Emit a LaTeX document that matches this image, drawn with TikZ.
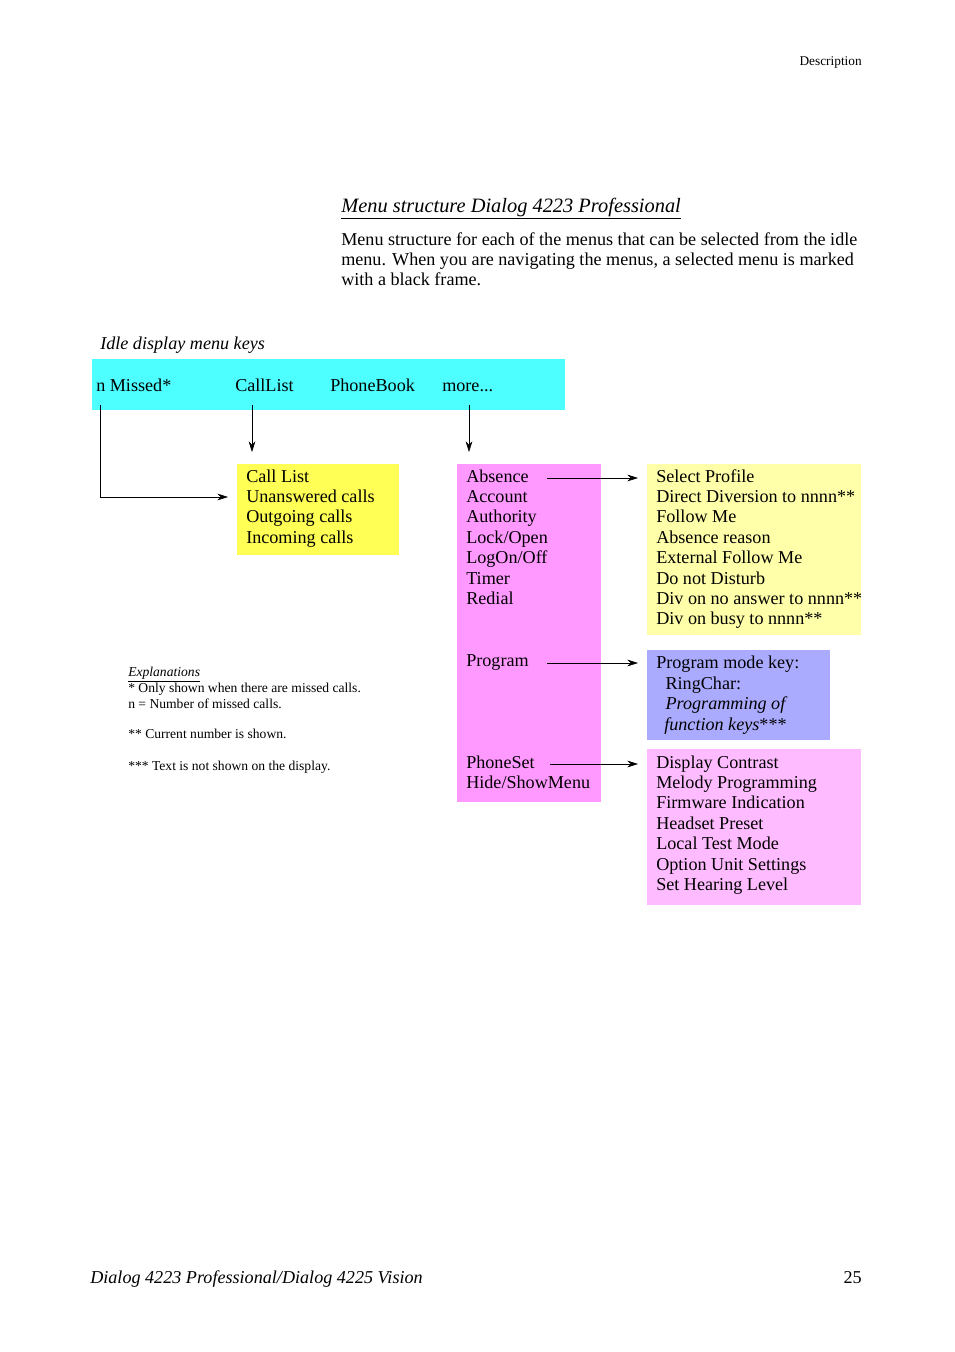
\documentclass[tikz,border=0pt]{standalone}
\usepackage{fontspec}
\setmainfont{Liberation Serif}
\usetikzlibrary{positioning,arrows.meta}
\definecolor{idlecyan}{HTML}{4DFFFF}
\definecolor{callyellow}{HTML}{FFFF55}
\definecolor{moremag}{HTML}{FF99FF}
\definecolor{profyellow}{HTML}{FFFFAA}
\definecolor{progblue}{HTML}{AAAAFF}
\definecolor{setpink}{HTML}{FFBBFF}
\begin{document}
\begin{tikzpicture}[
    x=0.75pt, y=-0.75pt,
    txt/.style={anchor=base west, inner sep=0pt, font=\fontsize{13.6}{15.3}\selectfont},
    menu/.style={txt, align=left},
    note/.style={anchor=base west, inner sep=0pt, align=left, font=\fontsize{10.2}{12}\selectfont},
    every path/.append style={>={Stealth[length=8pt,width=5pt]}}
]
   \useasboundingbox (0,0) rectangle (954,1352);

   % Page header and footer (multi-line nodes sit on their last baseline)
   \node[note, anchor=base east, font=\fontsize{10}{12}\selectfont] (hdr) at (862,66) {Description};
   \node[txt, font=\fontsize{13.6}{15}\itshape] (foot) at (90,1283) {Dialog 4223 Professional/Dialog 4225 Vision};
   \node[txt, anchor=base east] (page) at (862,1283) {25};

   % Title and intro
   \node[txt, font=\fontsize{15.3}{17}\itshape] (title) at (341,212) {\underline{Menu structure Dialog 4223 Professional}};
   \node[menu, font=\fontsize{13.6}{15}\selectfont] (intro) at (341,285) {Menu structure for each of the menus that can be selected from the idle\\menu. When you are navigating the menus, a selected menu is marked\\with a black frame.};
   \node[txt, font=\fontsize{13.6}{15}\itshape] (idle) at (100,349) {Idle display menu keys};

   % Boxes
   \fill[idlecyan] (92,359) rectangle (565,410);
   \fill[callyellow] (237,464) rectangle (399,555);
   \fill[moremag] (457,464) rectangle (601,802);
   \fill[profyellow] (647,464) rectangle (861,635);
   \fill[progblue] (647,650) rectangle (830,740);
   \fill[setpink] (647,749) rectangle (861,905);

   % Idle keys
   \node[txt] (missed) at (96,391) {n Missed*};
   \node[txt] (calllist) at (235,391) {CallList};
   \node[txt] (phonebook) at (330,391) {PhoneBook};
   \node[txt] (more) at (442,391) {more...};

   % Menus
   \node[menu] (calls) at (246,543.2) {Call List\\Unanswered calls\\Outgoing calls\\Incoming calls};
   \node[menu] (moremenu) at (466,604.4) {Absence\\Account\\Authority\\Lock/Open\\LogOn/Off\\Timer\\Redial};
   \node[txt] (program) at (466,666) {Program};
   \node[menu] (phoneset) at (466,788.4) {PhoneSet\\Hide/ShowMenu};
   \node[menu] (profile) at (656,624.8) {Select Profile\\Direct Diversion to nnnn**\\Follow Me\\Absence reason\\External Follow Me\\Do not Disturb\\Div on no answer to nnnn**\\Div on busy to nnnn**};
   \node[menu] (progkey) at (656,730) {Program mode key:\\\hspace{7pt}RingChar:\\\hspace{7pt}\textit{Programming of}\\\hspace{6pt}\textit{function keys}***};
   \node[menu] (settings) at (656,890.4) {Display Contrast\\Melody Programming\\Firmware Indication\\Headset Preset\\Local Test Mode\\Option Unit Settings\\Set Hearing Level};

   % Explanations
   \node[note] (expl) at (128,708) {\textit{\underline{Explanations}}\\* Only shown when there are missed calls.\\n = Number of missed calls.};
   \node[note] (expl2) at (128,738) {** Current number is shown.};
   \node[note] (expl3) at (128,770) {*** Text is not shown on the display.};

   % Connectors
   \coordinate (m0) at (100,405);
   \coordinate (m1) at (100,497);
   \coordinate (m2) at (228,497);
   \coordinate (c0) at (252,405);
   \coordinate (c1) at (252,452);
   \coordinate (r0) at (469,405);
   \coordinate (r1) at (469,452);
   \draw[->] (m0) -- (m1) -- (m2);
   \draw[->] (c0) -- (c1);
   \draw[->] (r0) -- (r1);
   \draw[->] (547,478) -- (638,478);
   \draw[->] (547,663) -- (638,663);
   \draw[->] (550,764) -- (638,764);
\end{tikzpicture}
\end{document}
